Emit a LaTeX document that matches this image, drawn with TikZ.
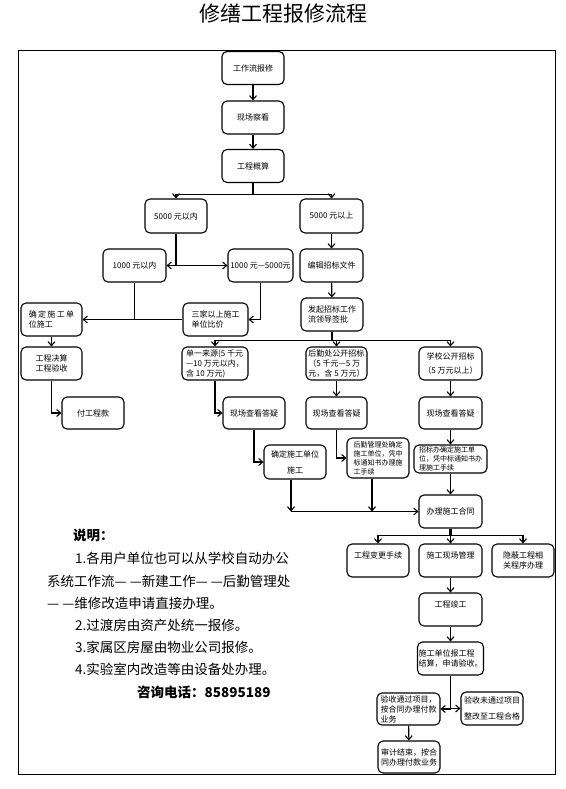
\documentclass[tikz,border=0pt]{standalone}
\usepackage{fontspec}
\setmainfont{Noto Sans CJK SC}
\usetikzlibrary{arrows.meta}
\tikzset{
  box/.style={draw, rounded corners=5pt, line width=1.1pt, inner sep=1pt,
    font=\fontsize{8}{10}\selectfont, align=center, minimum width=62, minimum height=33},
  lbox/.style={box, align=left},
  small/.style={font=\fontsize{7}{9}\selectfont},
  arr/.style={line width=1.1pt, -{Straight Barb[length=4pt,width=7pt]}},
  ln/.style={line width=1.1pt},
  thk/.style={line width=2.6pt},
  note/.style={anchor=west, inner sep=0pt, font=\fontsize{13.5}{16}\selectfont}
}
\newcommand{\dd}{—\hspace{3pt}—}
\begin{document}
\begin{tikzpicture}[x=1pt,y=-1pt]
\useasboundingbox (0,0) rectangle (565,789);
\node[font=\fontsize{21}{24}\selectfont] (title) at (283,14) {修缮工程报修流程};
\draw[line width=1pt] (18,51) rectangle (555,774);

% boxes
\node[box] (n1) at (253,68) {工作流报修};
\node[box] (n2) at (253,117.5) {现场察看};
\node[box] (n3) at (253,166) {工程概算};
\node[box, minimum height=34] (a1) at (176,216) {5000 元以内};
\node[box, minimum height=34, minimum width=63] (a2) at (331.5,216) {5000 元以上};
\node[box, minimum width=63] (b1) at (134.5,265.5) {1000 元以内};
\node[box, minimum width=65] (b2) at (260.5,265.5) {1000 元—5000元};
\node[box, minimum width=63] (b3) at (331.5,265.5) {编辑招标文件};
\node[lbox, minimum width=61] (c1) at (51.5,319.5) {确\,定\,施\,工\,单\\位施工};
\node[lbox, minimum width=65] (c2) at (215.5,319.5) {三家以上施工\\单位比价};
\node[lbox] (c3) at (332,314.5) {发起招标工作\\流领导签批};
\node[box, minimum width=61] (d1) at (51.5,363.5) {工程决算\\工程验收};
\node[lbox, minimum width=66] (d2) at (215,363.5) {单一来源(5 千元\\—10 万元以内，\\含 10 万元)};
\node[lbox, minimum width=61] (d3) at (336.5,363.5) {后勤处公开招标\\（5 千元—5 万\\元，含 5 万元）};
\node[box, minimum width=63] (d4) at (450.5,363.5) {学校公开招标\\[4pt]（5 万元以上）};
\node[box, minimum height=32] (e1) at (93,413) {付工程款};
\node[box, minimum height=32] (e2) at (254,413) {现场查看答疑};
\node[box, minimum height=32, minimum width=61] (e3) at (336.5,413) {现场查看答疑};
\node[box, minimum height=32, minimum width=63] (e4) at (450.5,413) {现场查看答疑};
\node[box, minimum height=34] (f1) at (295,462) {确定施工单位\\[6pt]施工};
\node[lbox, small, minimum height=40] (f2) at (378,458) {后勤管理处确定\\施工单位，凭中\\标通知书办理施\\工手续};
\node[lbox, small, minimum height=28, minimum width=73] (f3) at (450.5,459) {招标办确定施工单\\位，凭中标通知书办\\理施工手续};
\node[box, minimum width=63] (g) at (450.5,511.5) {办理施工合同};
\node[lbox] (h1) at (378,560.5) {工程变更手续\\\mbox{}};
\node[lbox, minimum width=63] (h2) at (450.5,560.5) {施工现场管理\\\mbox{}};
\node[box] (h3) at (523,560.5) {隐蔽工程相\\关程序办理};
\node[lbox, minimum width=63] (i) at (450.5,609.5) {工程竣工\\\mbox{}};
\node[lbox, minimum width=63] (j) at (450.5,658.5) {施工单位报工程\\结算，申请验收。};
\node[lbox, minimum width=63, minimum height=32] (k1) at (408.5,709) {验收通过项目，\\按合同办理付款\\业务};
\node[box] (k2) at (492,708.5) {验收未通过项目\\[6pt]整改至工程合格};
\node[lbox, minimum height=32] (l) at (409,757) {审计结束，按合\\同办理付款业务};

% connectors
\draw[arr] (n1) -- (n2);
\draw[arr] (n2) -- (n3);
\draw[arr] (n3.south) -- ++(0,11) -| (a1.north);
\draw[arr] (n3.south) -- ++(0,11) -| (a2.north);
\draw[arr] (a2) -- (b3);
\draw[arr] (b3) -- (c3);
\draw[arr] (a1.south) |- (b1.east);
\draw[arr] (a1.south) |- (b2.west);
\draw[arr] (b1.south) |- (c1.east);
\draw[ln] (c2.west) -- (c1.east);
\draw[arr] (b2.south) |- (c2.east);
\draw[arr] (c1) -- (d1);
\draw[arr] (d1.south) |- (e1.west);
\draw[thk] (c3.south) -- ++(0,8);
\draw[arr] (c3.south) -- ++(0,9) -| (d2.north);
\draw[arr] (c3.south) -- ++(0,9) -| (d3.north);
\draw[arr] (c3.south) -- ++(0,9) -| (d4.north);
\draw[arr] (d2.south) |- (e2.west);
\draw[arr] (d3) -- (e3);
\draw[arr] (d4) -- (e4);
\draw[arr] (e2.south) |- (f1.west);
\draw[arr] (e3.south) |- (f2.west);
\draw[arr] (e4) -- (f3);
\draw[arr] (f3) -- (g);
\draw[arr] ([xshift=-4pt]f1.south) -- ([xshift=-4pt]f1.south |- g.west);
\draw[arr] ([xshift=-6pt]f2.south) -- ([xshift=-6pt]f2.south |- g.west);
\draw[arr] ([xshift=-4pt]f1.south |- g.west) -- (g.west);
\draw[thk] (g.south) -- ++(0,6);
\draw[arr] (g.south) -- ++(0,7) -| (h1.north);
\draw[arr] (g.south) -- ++(0,7) -| (h2.north);
\draw[arr] (g.south) -- ++(0,7) -| (h3.north);
\draw[arr] (h2) -- (i);
\draw[arr] (i) -- (j);
\draw[arr] (j.south) |- (k1.east);
\draw[arr] (j.south) |- (k2.west);
\draw[arr] (k1) -- (l);

% notes
\node[note, font=\fontsize{13.5}{16}\selectfont\bfseries] (t0) at (73,535) {说明：};
\node[note] (t1) at (75,558) {1.各用户单位也可以从学校自动办公};
\node[note] (t2) at (47,581) {系统工作流\dd 新建工作\dd 后勤管理处};
\node[note] (t3) at (47,603) {\dd 维修改造申请直接办理。};
\node[note] (t4) at (75,625) {2.过渡房由资产处统一报修。};
\node[note] (t5) at (75,647) {3.家属区房屋由物业公司报修。};
\node[note] (t6) at (75,669) {4.实验室内改造等由设备处办理。};
\node[note, font=\fontsize{13.5}{16}\selectfont\bfseries] (t7) at (137,692) {咨询电话：85895189};
\end{tikzpicture}
\end{document}
